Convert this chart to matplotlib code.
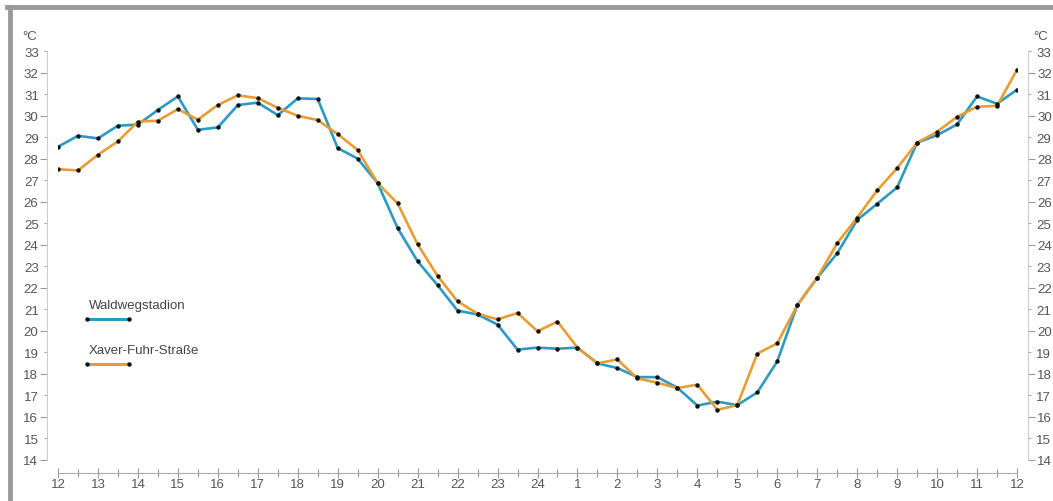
import matplotlib.pyplot as plt
import numpy as np
from matplotlib.lines import Line2D

# half-hourly temperatures, from 12:00 to 12:00 next day
waldweg = [28.55, 29.06, 28.94, 29.53, 29.58, 30.26, 30.89, 29.34, 29.45, 30.49,
           30.60, 30.02, 30.80, 30.77, 28.49, 28.00, 26.86, 24.77, 23.23, 22.12,
           20.94, 20.76, 20.29, 19.13, 19.22, 19.17, 19.22, 18.49, 18.27, 17.85,
           17.85, 17.36, 16.53, 16.71, 16.55, 17.14, 18.58, 21.19, 22.46, 23.60,
           25.15, 25.90, 26.66, 28.74, 29.09, 29.59, 30.89, 30.55, 31.20]
xaver = [27.51, 27.45, 28.18, 28.80, 29.72, 29.76, 30.30, 29.81, 30.49, 30.94,
         30.81, 30.36, 29.99, 29.79, 29.14, 28.40, 26.86, 25.92, 24.02, 22.55,
         21.37, 20.80, 20.53, 20.83, 19.98, 20.43, 19.22, 18.49, 18.67, 17.79,
         17.59, 17.34, 17.50, 16.33, 16.55, 18.94, 19.42, 21.19, 22.46, 24.07,
         25.26, 26.52, 27.56, 28.74, 29.25, 29.94, 30.41, 30.45, 32.13]
hour_labels = [12, 13, 14, 15, 16, 17, 18, 19, 20, 21, 22, 23, 24,
               1, 2, 3, 4, 5, 6, 7, 8, 9, 10, 11, 12]
names = ["Waldwegstadion", "Xaver-Fuhr-Straße"]
colors = ["#2b9bc3", "#e89d32"]

plt.rcParams['font.family'] = ['Liberation Sans', 'DejaVu Sans']
FS = 9.5
W, H = 1053, 502
fig = plt.figure(figsize=(W / 100, H / 100), dpi=100)
ax = fig.add_axes([58 / W, (H - 461) / H, 959 / W, 409 / H])

t = np.arange(len(waldweg)) * 0.5
for series, c in zip([waldweg, xaver], colors):
    ax.plot(t, series, color=c, lw=1.9, zorder=2)
    ax.plot(t, series, 'o', color='#111111', ms=3.2, mew=0, zorder=3)

ax.set_xlim(0, 24)
ax.set_ylim(14, 33)

# x axis: hour labels, half-hour ticks
ax.set_xticks(np.arange(25))
ax.set_xticklabels([str(h) for h in hour_labels])
ax.set_xticks(np.arange(0.5, 24, 1.0), minor=True)
ax.tick_params(axis='x', which='major', direction='inout', length=7, width=0.8,
               color='#999999', labelsize=FS, labelcolor='#555555', pad=0.5)
ax.tick_params(axis='x', which='minor', direction='inout', length=6, width=0.8,
               color='#999999')

# y axis on both sides: long ticks on even values, short on odd
even = np.arange(14, 34, 2)
odd = np.arange(15, 34, 2)
ax.set_yticks(even)
ax.set_yticklabels([str(v) for v in even])
ax.set_yticks(odd, minor=True)
ax.set_yticklabels([str(v) for v in odd], minor=True)
ax.tick_params(axis='y', which='major', direction='out', length=5, width=0.8,
               color='#999999', labelsize=FS, labelcolor='#555555', pad=1.5,
               left=True, right=True, labelleft=True, labelright=True)
ax.tick_params(axis='y', which='minor', direction='out', length=2, width=0.8,
               color='#aaaaaa', labelsize=FS, labelcolor='#555555', pad=3.7,
               left=True, right=True, labelleft=True, labelright=True)

for side in ['left', 'right']:
    ax.spines[side].set_position(('outward', 8))
    ax.spines[side].set_color('#cccccc')
    ax.spines[side].set_linewidth(0.8)
ax.spines['bottom'].set_position(('outward', 9))
ax.spines['bottom'].set_color('#aaaaaa')
ax.spines['bottom'].set_linewidth(0.8)
ax.spines['top'].set_visible(False)

fig.text(30 / W, 1 - 37 / H, "°C", ha='center', va='center', fontsize=FS, color='#555555')
fig.text(1041 / W, 1 - 37 / H, "°C", ha='center', va='center', fontsize=FS, color='#555555')

# legend: label above a short sample line with end dots
for i, (name, c) in enumerate(zip(names, colors)):
    ty = 1 - (306 + i * 45) / H
    ly = 1 - (320 + i * 45) / H
    fig.text(89 / W, ty, name, ha='left', va='center', fontsize=FS, color='#444444')
    fig.add_artist(Line2D([87 / W, 129 / W], [ly, ly], color=c, lw=2.2))
    fig.add_artist(Line2D([87 / W, 129 / W], [ly, ly], ls='none', marker='o',
                          color='#111111', ms=3.2, mew=0))

# grey frame on top and left
fig.add_artist(Line2D([7 / W, 1], [1 - 7.5 / H, 1 - 7.5 / H], color='#9a9a9a', lw=3.5))
fig.add_artist(Line2D([9.5 / W, 9.5 / W], [0, 1 - 7.5 / H], color='#9a9a9a', lw=3.5))

fig.savefig("out.png", dpi=100, facecolor='white')
